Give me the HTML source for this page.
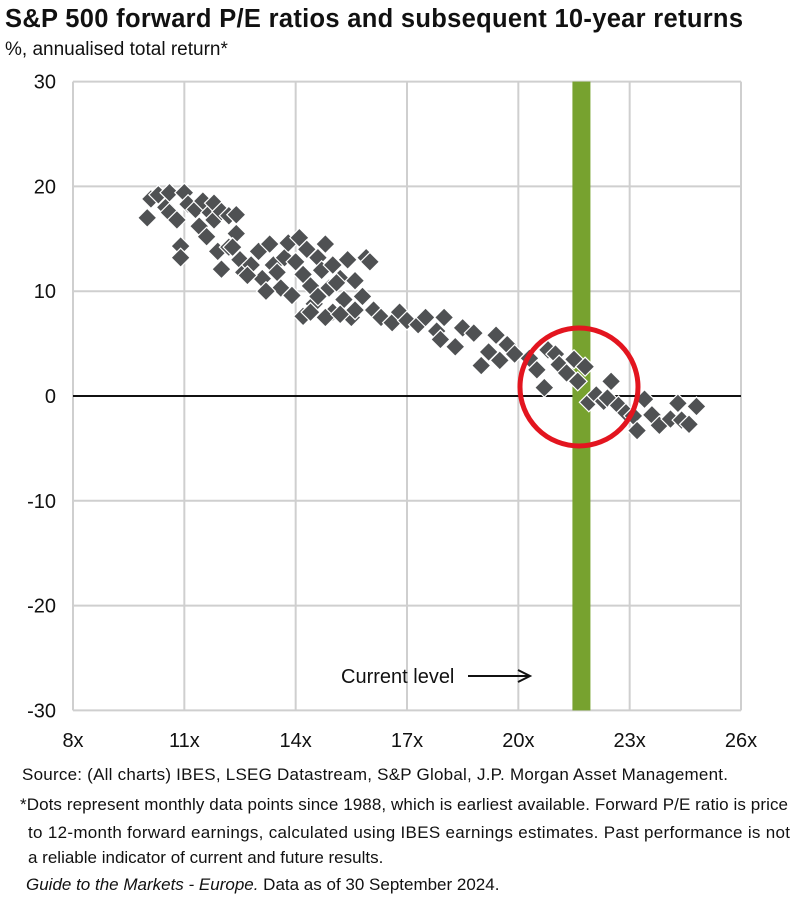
<!DOCTYPE html>
<html><head><meta charset="utf-8"><style>
body{margin:0;background:#fff;font-family:"Liberation Sans",Arial,sans-serif;width:810px;height:901px;overflow:hidden}
</style></head><body>
<svg width="810" height="901">
<text x="5" y="27" font-size="25.5" font-weight="bold" fill="#111" textLength="738">S&amp;P 500 forward P/E ratios and subsequent 10-year returns</text>
<text x="5" y="55" font-size="19" fill="#111">%, annualised total return*</text>
<g id="grid"></g><g id="axes"></g><g id="pts"></g><g id="ann"></g>
<text x="22" y="780" font-size="17" fill="#111" textLength="706">Source: (All charts) IBES, LSEG Datastream, S&amp;P Global, J.P. Morgan Asset Management.</text>
<text x="20" y="810" font-size="17" fill="#111" textLength="768">*Dots represent monthly data points since 1988, which is earliest available. Forward P/E ratio is price</text>
<text x="28" y="838" font-size="17" fill="#111" textLength="762">to 12-month forward earnings, calculated using IBES earnings estimates.  Past performance is not</text>
<text x="28" y="863" font-size="17" fill="#111">a reliable indicator of  current and future results.</text>
<text x="26" y="890" font-size="17" fill="#111"><tspan font-style="italic">Guide to the Markets - Europe.</tspan> Data as of 30 September 2024.</text>
</svg>
<script>
const xTicks=[8,11,14,17,20,23,26];
const yTicks=[30,20,10,0,-10,-20,-30];
const peValues=[10,10.1,10.3,10.5,10.6,10.8,10.6,11,11.1,10.9,10.9,11.3,11.5,11.4,11.7,11.8,11.6,11.8,12,12.2,12.4,11.9,12,12.2,12.4,12.5,12.6,12.8,13,13.1,13.3,13.4,13.6,13.7,13.8,13.9,14,14.1,14.2,14.3,14.4,14.5,14.6,14.7,14.8,14.9,15,15,15.2,15.3,15.4,15.5,15.6,15.8,15.9,16,16.1,14.2,14.4,14.8,15.2,15.6,16.3,16.6,16.8,17,17.3,17.5,17.8,17.9,18,18.3,18.5,18.8,19,19.2,19.4,19.5,19.7,19.9,20.3,20.5,20.7,20.8,21,21.1,21.3,21.5,21.6,21.8,21.9,22.1,22.3,22.5,22.4,22.7,22.9,23.1,23.2,23.4,23.6,23.8,24.1,24.3,24.4,24.6,24.8,12.7,13.2,12.3,13.5,14.6,15.1];
const returnValues=[17,18.8,19.2,18,17.5,16.8,19.4,19.4,18.3,14.3,13.2,17.8,18.6,16.2,17.5,18.4,15.2,16.8,17.6,17.2,17.3,13.8,12.1,14.2,15.5,13,11.8,12.5,13.8,11.2,14.5,12.5,10.3,13.2,14.6,9.6,12.8,15.1,11.6,14,10.5,8.8,13.2,12,14.5,10.3,8,12.5,11.2,9.2,13,7.5,11,9.5,13.2,12.8,8.2,7.6,8,7.5,7.8,8.2,7.5,7,8,7.2,6.8,7.5,6.2,5.4,7.5,4.7,6.5,6,2.9,4.2,5.8,3.4,4.9,4,3.6,2.5,0.8,4.4,4,3,2.2,3.5,1.4,2.8,-0.6,0.1,-0.5,1.4,-0.2,-0.9,-1.6,-1.9,-3.3,-0.3,-1.8,-2.8,-2.2,-0.7,-2.3,-2.7,-1,11.5,10,14.2,11.8,9.5,10.8];
const currentPE=21.7;
const X=v=>73+(v-8)*(668/18), Y=v=>396-v*10.48;
const ns="http://www.w3.org/2000/svg";
function mk(p,t,a){const e=document.createElementNS(ns,t);for(const k in a)e.setAttribute(k,a[k]);document.getElementById(p).appendChild(e);return e;}
xTicks.forEach(t=>{const l=mk('grid','line',{x1:X(t),x2:X(t),y1:Y(30),y2:Y(-30),stroke:'#cfcfcf','stroke-width':2});


const tx=mk('axes','text',{x:X(t),y:747,'font-size':20,'text-anchor':'middle',fill:'#111'});tx.textContent=t+'x';

});
yTicks.forEach(t=>{const l=mk('grid','line',{x1:X(8),x2:X(26),y1:Y(t),y2:Y(t),stroke:t===0?'#111':'#cfcfcf','stroke-width':2});


const tx=mk('axes','text',{x:56,y:Y(t)+7,'font-size':20,'text-anchor':'end',fill:'#111'});tx.textContent=t;

});
const bar=mk('grid','rect',{x:X(currentPE)-9,y:Y(30),width:18,height:Y(-30)-Y(30),fill:'#77a22f'});


peValues.forEach((p,i)=>{const cx=X(p),cy=Y(returnValues[i]),s=9.5;
const d=mk('pts','polygon',{points:`${cx},${cy-s} ${cx+s},${cy} ${cx},${cy+s} ${cx-s},${cy}`,fill:'#4f5153',stroke:'#fff','stroke-width':1.2});

});
const c=mk('ann','circle',{cx:579,cy:387,r:59,fill:'none',stroke:'#e3151f','stroke-width':5});


const lt=mk('ann','text',{x:341,y:683,'font-size':20,fill:'#111'});lt.textContent='Current level';


const ar=mk('ann','line',{x1:468,x2:528,y1:676,y2:676,stroke:'#111','stroke-width':2});


const ah=mk('ann','polyline',{points:'518,670 530,676 518,682',fill:'none',stroke:'#111','stroke-width':2});


</script>
</body></html>
